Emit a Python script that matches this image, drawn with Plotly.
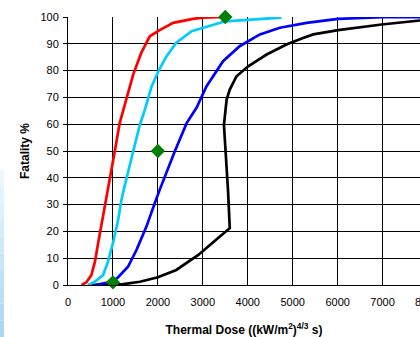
import plotly.graph_objects as go

# ---- data ----
red_x = [300, 410, 520, 600, 670, 740, 850, 1040, 1150, 1230, 1290, 1450, 1630, 1820, 2040, 2340, 2780, 3000, 3500]
red_y = [0, 1, 3.7, 8.7, 15.6, 21.8, 31.8, 49.8, 60.4, 65.4, 69.2, 78.5, 86.6, 92.8, 95.1, 97.8, 99.3, 99.8, 100]

cyan_x = [445, 595, 780, 890, 1000, 1115, 1190, 1240, 1450, 1600, 1710, 1780, 1860, 2030, 2190, 2410, 2750, 3500, 4750]
cyan_y = [0, 1.2, 3.7, 8.7, 15.6, 24.3, 31.8, 35.5, 49.8, 59.8, 65.4, 69.2, 74.1, 80.4, 85.3, 90.4, 94.7, 98.4, 99.8]

blue_x = [600, 1000, 1115, 1335, 1525, 1745, 1930, 2040, 2375, 2640, 2860, 3080, 3450, 3820, 4270, 4715, 5310, 6010, 7000, 8000]
blue_y = [0, 1.3, 2.9, 6.8, 13.1, 21.8, 30.5, 35.5, 49.8, 60.4, 66.1, 74.1, 83.5, 89.1, 93.5, 96, 97.8, 99.3, 99.9, 100]

black_x = [520, 1225, 1600, 2000, 2410, 2900, 3380, 3600, 3560, 3510, 3470, 3530, 3600, 3750, 4010, 4420, 4860, 5230, 5460, 6010, 6980, 7830, 8000]
black_y = [0, 0.3, 1.2, 2.9, 5.6, 11.2, 18.1, 21.2, 35.5, 49.8, 59.8, 69.2, 72.9, 77.9, 81.6, 86, 89.7, 92.2, 93.5, 95.1, 97.2, 98.7, 98.9]

pts_x = [1000, 2000, 3500]
pts_y = [1, 50, 100]

x_ticks = [0, 1000, 2000, 3000, 4000, 5000, 6000, 7000, 8000]
y_ticks = [0, 10, 20, 30, 40, 50, 60, 70, 80, 90, 100]

FONT = "Liberation Sans, Arial, sans-serif"

fig = go.Figure()
for xs, ys, col in [(black_x, black_y, "#000000"), (blue_x, blue_y, "#0000ff"),
                    (cyan_x, cyan_y, "#00ccff"), (red_x, red_y, "#ff0000")]:
    fig.add_trace(go.Scatter(x=xs, y=ys, mode="lines",
                             line=dict(color=col, width=2.7), showlegend=False))
fig.add_trace(go.Scatter(x=pts_x, y=pts_y, mode="markers",
                         marker=dict(symbol="diamond", size=11, color="#008000"),
                         showlegend=False, cliponaxis=False))

# light-blue gradient strip on the left edge
L, W, B, H = 68, 352, 285, 268
n = 10
y_top, y_bot = 170, 337
for i in range(n):
    t = (i + 0.5) / n
    r = int(240 + (166 - 240) * t)
    g = int(249 + (216 - 249) * t)
    b = int(254 + (242 - 254) * t)
    ya = y_top + (y_bot - y_top) * i / n
    yb = y_top + (y_bot - y_top) * (i + 1) / n
    fig.add_shape(type="rect", xref="paper", yref="paper",
                  x0=(0 - L) / W, x1=(4 - L) / W,
                  y0=(B - yb) / H, y1=(B - ya) / H,
                  fillcolor=f"rgb({r},{g},{b})", line=dict(width=0), layer="below")

fig.update_layout(
    width=420, height=337,
    margin=dict(l=68, r=0, t=17, b=52, autoexpand=False),
    paper_bgcolor="white", plot_bgcolor="white",
    font=dict(family=FONT, size=11, color="#000"),
    hovermode=False,
    xaxis=dict(range=[0, 7833], tickvals=x_ticks, ticktext=[str(v) for v in x_ticks],
               automargin=False,
               showgrid=True, gridcolor="#000", gridwidth=1,
               showline=True, linecolor="#000", linewidth=1,
               zeroline=False, ticks="", tickfont=dict(size=11), ticklabelstandoff=7,
               title=dict(text="<b>Thermal Dose ((kW/m<sup>2</sup>)<sup>4/3</sup> s)</b>",
                          font=dict(size=12), standoff=18)),
    yaxis=dict(range=[0, 100], tickvals=y_ticks, automargin=False,
               showgrid=True, gridcolor="#000", gridwidth=1,
               showline=True, linecolor="#000", linewidth=1,
               zeroline=False, ticks="outside", ticklen=4, tickcolor="#000",
               tickfont=dict(size=11), ticklabelstandoff=2,
               title=dict(text="<b>Fatality %</b>", font=dict(size=12), standoff=8)),
)

# clipped "8000" label at the right edge
fig.add_annotation(text="8000", xref="paper", yref="paper", x=(427 - L) / W, y=0,
                   yshift=-17, showarrow=False, font=dict(size=11), xanchor="center",
                   yanchor="middle")

fig.write_html("out.html", config={"displayModeBar": False, "staticPlot": True},
               post_script="document.body.style.margin='0';document.body.style.overflow='hidden';")
